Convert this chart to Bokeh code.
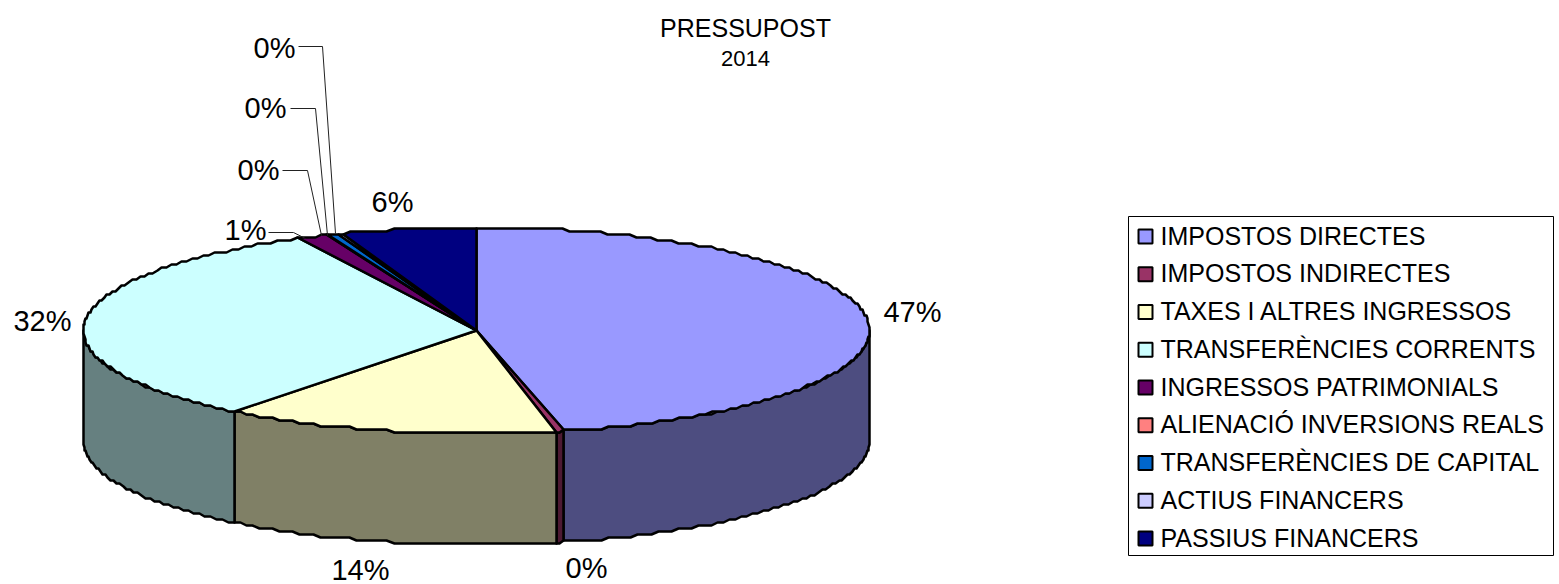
import numpy as np
from bokeh.core.properties import value
from bokeh.embed import file_html
from bokeh.models import Range1d
from bokeh.plotting import figure
from bokeh.resources import INLINE

categories = ["IMPOSTOS DIRECTES", "IMPOSTOS INDIRECTES", "TAXES I ALTRES INGRESSOS",
              "TRANSFERÈNCIES CORRENTS", "INGRESSOS PATRIMONIALS", "ALIENACIÓ INVERSIONS REALS",
              "TRANSFERÈNCIES DE CAPITAL", "ACTIUS FINANCERS", "PASSIUS FINANCERS"]
shares = [46.5, 0.3, 13.85, 31.95, 1.3, 0.02, 0.5, 0.2, 5.5]
pct_labels = ["47%", "0%", "14%", "32%", "1%", "0%", "0%", "0%", "6%"]
top_colors = ["#9999FF", "#993366", "#FFFFCC", "#CCFFFF", "#660066", "#FF8080", "#0066CC", "#CCCCFF", "#000080"]
side_colors = ["#4D4D80", "#4D1A33", "#808066", "#668080", "#330033", "#804040", "#003366", "#666680", "#000040"]
label_x = [912, 586, 360, 42, 245, 258, 265, 274, 392]
label_y = [311, 567, 569, 320, 229, 169, 107, 47, 201]
title_lines = ["PRESSUPOST", "2014"]
title_x = [745, 745]
title_y = [27, 58]
leader_xs = [[268, 293, 305], [282, 307, 321], [290, 315, 327], [298, 322, 335]]
leader_ys = [[232, 232, 238], [170, 170, 235], [108, 108, 235], [46, 46, 233]]

CX, CY, RX, RY, DEPTH = 476, 330, 393, 103, 111
STEP = 3
FONT = "Liberation Sans"
LEG_L, LEG_R, LEG_T, LEG_B = 1128, 1553, 216, 555
ROW0, ROW_STEP = 236, 37.75

p = figure(width=1559, height=584, x_range=Range1d(0, 1559), y_range=Range1d(584, 0),
           toolbar_location=None, output_backend="svg", min_border=0,
           x_axis_location=None, y_axis_location=None, outline_line_color=None,
           background_fill_color="white", border_fill_color="white")
p.grid.visible = False

total = sum(shares)
edges = np.concatenate([[0], np.cumsum(shares)]) / total * 2 * np.pi


def rim(a0, a1):
    # the reference's outline is slightly stepped, so snap the rim to a small grid
    t = np.linspace(a0, a1, max(3, int((a1 - a0) * 50) + 2))
    x = CX + RX * np.sin(t)
    y = CY - RY * np.cos(t)
    return np.round(x), np.round(y / STEP) * STEP


for i in range(len(shares)):
    a0, a1 = max(edges[i], np.pi / 2), min(edges[i + 1], 3 * np.pi / 2)
    if a1 <= a0:
        continue
    x, y = rim(a0, a1)
    p.patch(np.concatenate([x, x[::-1]]), np.concatenate([y, y[::-1] + DEPTH]),
            fill_color=side_colors[i], line_color="black", line_width=2.5, line_join="round")

for i in range(len(shares)):
    x, y = rim(edges[i], edges[i + 1])
    p.patch(np.concatenate([[CX], x]), np.concatenate([[CY], y]),
            fill_color=top_colors[i], line_color="black", line_width=2.5, line_join="round")

p.multi_line(leader_xs, leader_ys, line_color="#222222", line_width=1)

p.text(label_x, label_y, text=pct_labels, text_font=value(FONT), text_font_size="29px",
       text_color="black", text_align="center", text_baseline="middle")
p.text(title_x[:1], title_y[:1], text=title_lines[:1], text_font=value(FONT), text_font_size="25px",
       text_color="black", text_align="center", text_baseline="middle")
p.text(title_x[1:], title_y[1:], text=title_lines[1:], text_font=value(FONT), text_font_size="22px",
       text_color="black", text_align="center", text_baseline="middle")

# legend box, swatches and labels
p.quad(left=[LEG_L], right=[LEG_R], top=[LEG_T], bottom=[LEG_B],
       fill_color="white", line_color="black", line_width=1)
rows = [ROW0 + ROW_STEP * i for i in range(len(categories))]
p.rect([1145] * len(rows), rows, width=14, height=14, fill_color=top_colors,
       line_color="black", line_width=2)
p.text([1160] * len(rows), [r - 1 for r in rows], text=categories, text_font=value(FONT),
       text_font_size="25px", text_color="black", text_align="left", text_baseline="middle")

open("out.html", "w").write(file_html(p, INLINE))
